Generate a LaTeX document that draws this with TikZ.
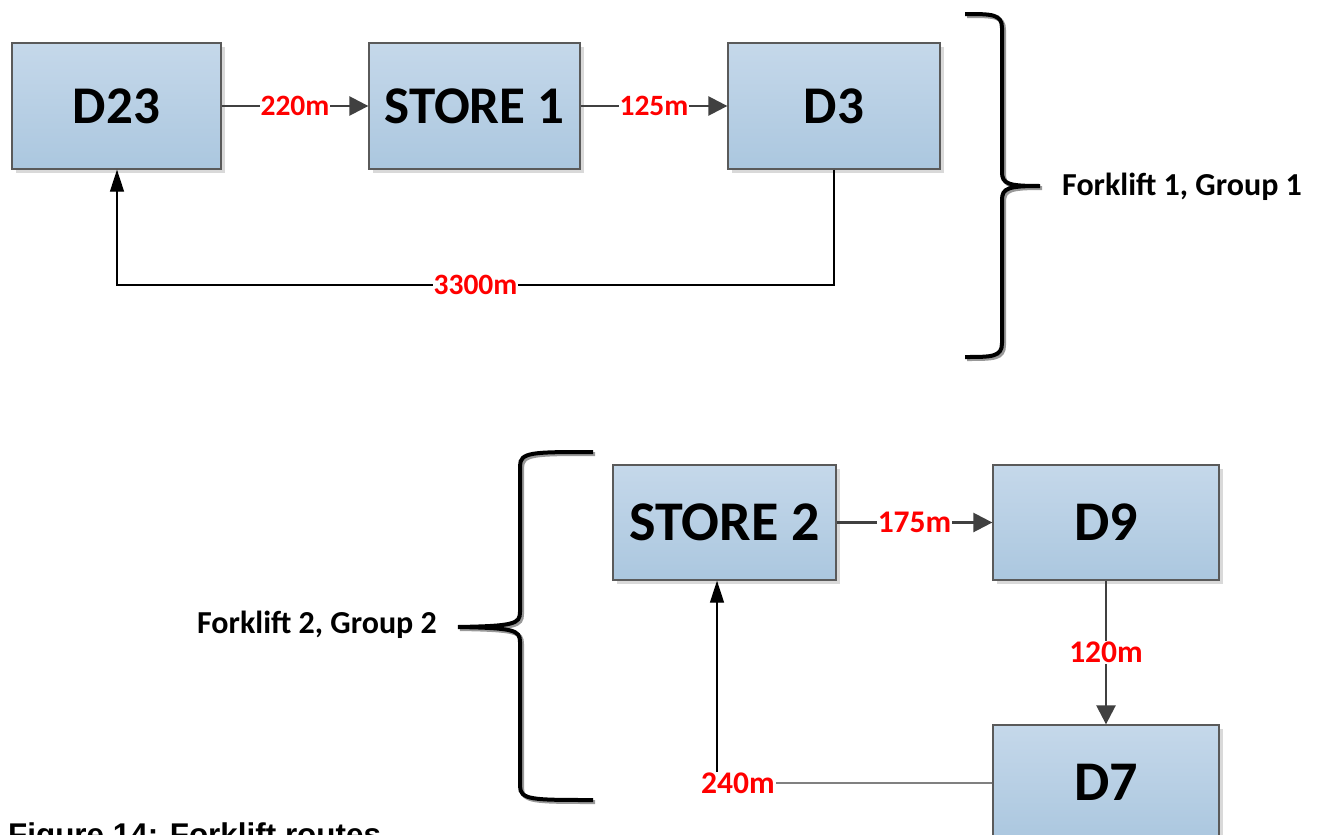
\documentclass[tikz,border=0pt]{standalone}
\usepackage{fontspec}
\setmainfont{Carlito}
\newfontfamily\arialf{Liberation Sans}
\usetikzlibrary{arrows.meta,shadows}
\definecolor{boxtop}{HTML}{C5D8EA}
\definecolor{boxbot}{HTML}{ABC7DF}
\definecolor{boxline}{HTML}{5A5A5A}
\definecolor{arrgray}{HTML}{404040}
\definecolor{lblred}{HTML}{FF0000}
\tikzset{
  box/.style={draw=boxline, line width=1.3pt, top color=boxtop, bottom color=boxbot,
    drop shadow={fill=black!15, opacity=1, shadow xshift=4pt, shadow yshift=-4pt},
    font=\fontsize{53}{56}\selectfont\bfseries, text=black, inner sep=0pt},
  bigbox/.style={box, font=\fontsize{56}{60}\selectfont\bfseries},
  grayarrow/.style={draw=arrgray, line width=2.5pt, -{Triangle[length=19pt,width=19pt]}},
  blkarrow/.style={draw=black, line width=1.3pt, -{Triangle[length=22pt,width=14pt]}},
  lbl/.style={fill=white, text=lblred, inner sep=1pt, font=\fontsize{29.5}{31}\selectfont\bfseries},
  biglbl/.style={lbl, font=\fontsize{31.5}{33}\selectfont\bfseries},
  grouplbl/.style={text=black, inner sep=0pt, font=\fontsize{32}{34}\selectfont\bfseries},
  bracesh/.style={draw=black!40, line width=4pt},
  bracemain/.style={draw=black, line width=4pt}
}
\begin{document}
\begin{tikzpicture}[x=1pt,y=-1pt]
\useasboundingbox (0,0) rectangle (1317,835);
\clip (0,0) rectangle (1317,835);
\fill[white] (0,0) rectangle (1317,835);
% boxes
\node[box, minimum width=209pt, minimum height=126pt] (d23) at (116.5,106) {D23};
\node[box, minimum width=211pt, minimum height=126pt] (store1) at (474.5,106) {STORE 1};
\node[box, minimum width=212pt, minimum height=126pt] (d3) at (834,106) {D3};
\node[bigbox, minimum width=223pt, minimum height=115pt] (store2) at (724.5,522.5) {STORE 2};
\node[bigbox, minimum width=226pt, minimum height=115pt] (d9) at (1106,522.5) {D9};
\node[bigbox, minimum width=226pt, minimum height=115pt] (d7) at (1106,782.5) {D7};
% connectors group 1
\draw[grayarrow] (d23) -- node[lbl]{220m} (store1);
\draw[grayarrow] (store1) -- node[lbl]{125m} (d3);
\coordinate (c1) at (834,285);
\coordinate (c2) at (117,285);
\draw[blkarrow] (d3.south) -- (c1) -- node[lbl]{3300m} (c2) -- (c2 |- d23.south);
% connectors group 2
\draw[grayarrow] (store2) -- node[biglbl]{175m} (d9);
\draw[grayarrow] (d9) -- node[biglbl]{120m} (d7);
\coordinate (c4) at (717,783);
\draw[draw=black!50, line width=1.6pt] (d7.west |- c4) -- (c4);
\draw[blkarrow] (c4) -- (c4 |- store2.south);
\node[biglbl] (l240) at (738,783) {240m};
% braces
\foreach \s/\dx in {bracesh/2, bracemain/0}{
  \draw[\s, xshift=\dx pt, yshift=-\dx pt] (965,14) .. controls (992,14) and (1002,14) .. (1002,28)
    -- (1002,172) .. controls (1002,184) and (1008,186) .. (1040,186)
    .. controls (1008,186) and (1002,188) .. (1002,200)
    -- (1002,343) .. controls (1002,357) and (992,357) .. (965,357);
  \draw[\s, xshift=\dx pt, yshift=-\dx pt] (593,452) .. controls (532,452) and (520,452) .. (520,466)
    -- (520,612) .. controls (520,624) and (514,626) .. (458,627)
    .. controls (514,628) and (520,630) .. (520,642)
    -- (520,786) .. controls (520,800) and (532,800) .. (593,800);
}
\node[grouplbl, anchor=west] (g1) at (1062,187) {Forklift 1, Group 1};
\node[grouplbl, anchor=east] (g2) at (437,625) {Forklift 2, Group 2};
% caption (cut off by the lower edge, as in the reference)
\node[anchor=base west, inner sep=0pt, font=\arialf\fontsize{31.4}{33}\selectfont\bfseries] (cap) at (8,845.5) {Figure 14: Forklift routes};
\end{tikzpicture}
\end{document}
